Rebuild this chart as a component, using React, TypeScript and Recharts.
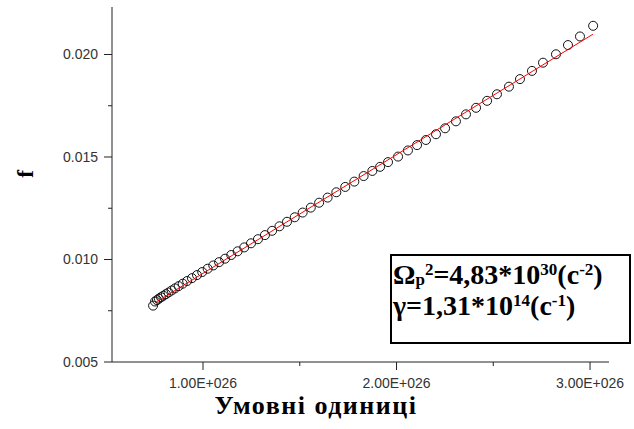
import React from "react"
import { ScatterChart, Scatter, XAxis, YAxis } from "recharts"

// x in units of 1E+026
const xValues = [
  0.742, 0.752, 0.762, 0.772, 0.783, 0.795, 0.808, 0.822, 0.838, 0.855,
  0.874, 0.895, 0.918, 0.943, 0.969, 0.996, 1.024, 1.053, 1.083, 1.114,
  1.146, 1.179, 1.213, 1.248, 1.284, 1.32, 1.357, 1.395, 1.434, 1.474,
  1.515, 1.557, 1.6, 1.644, 1.689, 1.735, 1.782, 1.83, 1.875, 1.915,
  1.956, 2.008, 2.059, 2.106, 2.152, 2.204, 2.251, 2.307, 2.359, 2.411,
  2.468, 2.519, 2.581, 2.638, 2.7, 2.757, 2.824, 2.886, 2.948, 3.016,
]
const fValues = [
  0.00775, 0.00795, 0.00802, 0.00809, 0.00816, 0.00823, 0.00831, 0.00839, 0.00849, 0.00859,
  0.0087, 0.00882, 0.00895, 0.00909, 0.00924, 0.00939, 0.00955, 0.00971, 0.00987, 0.01004,
  0.01022, 0.0104, 0.01059, 0.01079, 0.01099, 0.01119, 0.0114, 0.01162, 0.01184, 0.01206,
  0.01229, 0.01253, 0.01277, 0.01302, 0.01328, 0.01354, 0.0138, 0.01407, 0.01432, 0.01452,
  0.01475, 0.01502, 0.01532, 0.01558, 0.01583, 0.01611, 0.0164, 0.01674, 0.01708, 0.0174,
  0.01774, 0.01806, 0.01843, 0.0188, 0.0192, 0.0196, 0.02001, 0.02046, 0.02088, 0.0214,
]
const fitX = [0.752, 3.015]
const fitF = [0.00789, 0.02099]

const xTicks = [1, 1.5, 2, 2.5, 3]
const yTicks = [0.005, 0.0075, 0.01, 0.0125, 0.015, 0.0175, 0.02]

const points = xValues.map((x, i) => ({ x, f: fValues[i] }))
const fitLine = fitX.map((x, i) => ({ x, f: fitF[i] }))

const isMajor = (v: number, step: number) => Math.abs(v / step - Math.round(v / step)) < 1e-6

const tickFont = { fontFamily: "'Liberation Sans', Arial, sans-serif", fontSize: 14, fill: "#333" }

const YTick = (props: any) => {
  const { x, y, payload } = props
  const major = isMajor(payload.value, 0.005)
  return (
    <g>
      <line x1={x - (major ? 8 : 4)} x2={x} y1={y} y2={y} stroke="#222" strokeWidth={1} />
      {major && (
        <text x={x - 14} y={y} dy="0.35em" textAnchor="end" style={tickFont}>
          {payload.value.toFixed(3)}
        </text>
      )}
    </g>
  )
}

const XTick = (props: any) => {
  const { x, y, payload } = props
  const major = isMajor(payload.value, 1)
  return (
    <g>
      <line x1={x} x2={x} y1={y} y2={y + (major ? 8 : 4)} stroke="#222" strokeWidth={1} />
      {major && (
        <text x={x} y={y + 26} textAnchor="middle" style={tickFont}>
          {payload.value.toFixed(2)}E+026
        </text>
      )}
    </g>
  )
}

const Circle = (props: any) => (
  <circle cx={props.cx} cy={props.cy} r={4.5} fill="none" stroke="#111" strokeWidth={1} />
)

const serif = "'Liberation Serif', 'Times New Roman', serif"
const supStyle: React.CSSProperties = { fontSize: 17, position: "relative", top: -9, lineHeight: 0 }
const subStyle: React.CSSProperties = { fontSize: 17, position: "relative", top: 1, lineHeight: 0 }

export default function App() {
  return (
    <div style={{ position: "absolute", left: 0, top: 0, width: 634, height: 429, background: "#fff" }}>
      <ScatterChart width={634} height={429} margin={{ top: 7, right: 25, bottom: 0, left: 0 }}>
        <XAxis
          type="number"
          dataKey="x"
          domain={[0.5297, 3.098]}
          ticks={xTicks}
          allowDataOverflow
          height={67}
          tickSize={0}
          tickMargin={0}
          tickLine={false}
          axisLine={{ stroke: "#222", strokeWidth: 1 }}
          tick={<XTick />}
          label={{
            content: (p: any) => (
              <text
                x={p.viewBox.x + 204}
                y={p.viewBox.y + 52}
                textAnchor="middle"
                style={{ fontFamily: serif, fontWeight: "bold", fontSize: 26, letterSpacing: 1.5, fill: "#000" }}
              >
                Умовні одиниці
              </text>
            ),
          }}
        />
        <YAxis
          type="number"
          dataKey="f"
          domain={[0.005, 0.022317]}
          ticks={yTicks}
          allowDataOverflow
          width={112}
          tickSize={0}
          tickMargin={0}
          tickLine={false}
          axisLine={{ stroke: "#222", strokeWidth: 1 }}
          tick={<YTick />}
          label={{
            content: () => (
              <text
                x={25}
                y={174}
                transform="rotate(-90 25 174)"
                textAnchor="middle"
                dominantBaseline="central"
                style={{ fontFamily: serif, fontWeight: "bold", fontSize: 23, fill: "#000" }}
              >
                f
              </text>
            ),
          }}
        />
        <Scatter data={points} shape={<Circle />} isAnimationActive={false} />
        <Scatter
          data={fitLine}
          line={{ stroke: "#ff0000", strokeWidth: 1 }}
          shape={() => <g />}
          isAnimationActive={false}
        />
      </ScatterChart>
      <div
        style={{
          position: "absolute",
          left: 390,
          top: 254,
          width: 241,
          height: 90,
          boxSizing: "border-box",
          border: "2px solid #000",
          background: "#fff",
          fontFamily: serif,
          fontWeight: "bold",
          fontSize: 28,
          lineHeight: "31px",
          paddingTop: 3,
          paddingLeft: 1,
          color: "#000",
          whiteSpace: "nowrap",
        }}
      >
        <div>
          Ω<span style={subStyle}>p</span>
          <span style={supStyle}>2</span>=4,83*10<span style={supStyle}>30</span>(с<span style={supStyle}>-2</span>)
        </div>
        <div>
          γ=1,31*10<span style={supStyle}>14</span>(с<span style={supStyle}>-1</span>)
        </div>
      </div>
    </div>
  )
}
